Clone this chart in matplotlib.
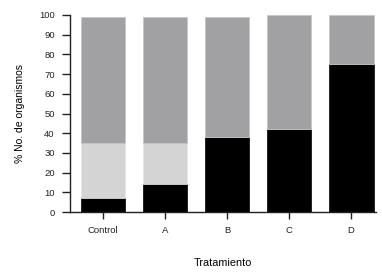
import matplotlib
matplotlib.use("Agg")
import matplotlib.pyplot as plt
import numpy as np

categories = ["Control", "A", "B", "C", "D"]
black_vals = [7, 14, 38, 42, 75]
light_vals = [28, 21, 0, 0, 0]
grey_vals = [64, 64, 61, 58, 25]

plt.rcParams['font.family'] = ['Liberation Sans', 'DejaVu Sans']

fig = plt.figure(figsize=(3.82, 2.8), dpi=100)
ax = fig.add_axes([70/382, 1-212/280, (376-70)/382, (212-15)/280])

x = np.arange(len(categories))
w = 0.72
b1 = np.array(black_vals)
b2 = b1 + np.array(light_vals)
ax.bar(x, black_vals, w, color='#000000', edgecolor='#000000', linewidth=0.5, clip_on=False, zorder=2)
ax.bar(x, light_vals, w, bottom=b1, color='#d4d4d4', edgecolor='#e6e6e6', linewidth=0.5, clip_on=False, zorder=2)
ax.bar(x, grey_vals, w, bottom=b2, color='#a1a1a3', edgecolor='#c4c4c4', linewidth=0.5, clip_on=False, zorder=2)

ax.set_xlim(-0.53, 4.4)
ax.set_ylim(0, 100)
ax.set_yticks(range(0, 101, 10))
ax.set_xticks(x)
ax.set_xticklabels(categories)
for s in ['top', 'right']:
    ax.spines[s].set_visible(False)
for s in ['left', 'bottom']:
    ax.spines[s].set_linewidth(1.0)
    ax.spines[s].set_color('#222222')
ax.tick_params(axis='y', direction='out', length=6, width=1.0, pad=5, labelsize=6.8, colors='#222222')
ax.tick_params(axis='x', direction='out', length=5, width=1.0, pad=5, labelsize=6.8, colors='#222222')
ax.set_ylabel("% No. de organismos", fontsize=7.5, labelpad=10)
ax.set_xlabel("Tratamiento", fontsize=7.8, labelpad=17)

fig.savefig("out.png", dpi=100)
